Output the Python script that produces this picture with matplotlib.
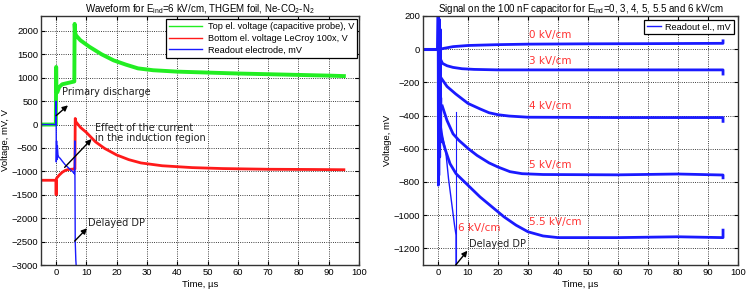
import matplotlib
matplotlib.use('Agg')
import matplotlib.pyplot as plt

plt.rcParams['font.family'] = ['Liberation Sans', 'DejaVu Sans']
plt.rcParams['mathtext.fontset'] = 'custom'
plt.rcParams['mathtext.rm'] = 'Liberation Sans'
plt.rcParams['mathtext.it'] = 'Liberation Sans'

# ---- left panel: waveform for E_ind = 6 kV/cm ----
top_t = [-5, -0.1, 0, 0.1, 0.4, 1, 2, 4, 6, 6.1, 6.3, 6.6, 8, 11, 15, 19, 23, 27, 32, 40, 50, 60, 70, 80, 90, 95]
top_v = [0, 0, 1230, 700, 690, 800, 860, 890, 920, 2150, 1950, 1900, 1800, 1660, 1500, 1370, 1280, 1200, 1160, 1130, 1110, 1090, 1075, 1060, 1045, 1035]

bot_t = [-5, -0.1, 0, 0.1, 0.5, 1, 2, 3, 4, 6, 6.2, 6.3, 6.5, 7, 8, 10, 13, 16, 20, 24, 28, 35, 45, 55, 70, 85, 95]
bot_v = [-1190, -1190, -1500, -1150, -1120, -1080, -1020, -980, -960, -950, -950, 130, 60, 20, -60, -170, -370, -510, -650, -750, -820, -880, -920, -940, -955, -960, -965]

ro_t = [-5, -0.05, 0, 0.05, 0.15, 0.25, 0.4, 0.6, 0.9, 1.3, 2, 3, 4, 5, 5.8, 6.0, 6.15, 6.3, 6.5, 6.7]
ro_v = [0, 0, 500, -800, -350, -750, -450, -650, -700, -720, -780, -860, -920, -980, -1030, -1050, -350, -2500, -2900, -3100]

# ---- right panel: signal on the 100 nF capacitor ----
base_t = [-5, -0.2]
base_v = [0, 0]
spike_t = [-0.2, 0, 0.1, 0.2, 0.3, 0.45, 0.6, 0.75, 0.9, 1.0]
spike_v = [0, 260, -820, 220, -760, 180, -650, 120, -560, -300]

e0_t = [0.8, 2, 5, 10, 20, 30, 50, 70, 95, 95]
e0_v = [0, 5, 15, 22, 27, 30, 32, 33, 35, 50]
e3_t = [0.8, 1.5, 3, 5, 8, 12, 20, 40, 60, 80, 95, 95]
e3_v = [-60, -86, -100, -110, -118, -122, -125, -125, -125, -125, -125, -150]
e4_t = [1.2, 3, 5.9, 10, 14, 17, 20, 23.7, 30, 60, 95, 95]
e4_v = [-178, -225, -270, -327, -360, -383, -395, -403, -410, -412, -412, -435]
e5_t = [1.4, 3, 5, 7, 10, 13, 17, 20, 24, 28, 35, 60, 80, 95, 95]
e5_v = [-342, -430, -510, -550, -598, -640, -685, -710, -738, -750, -755, -757, -752, -758, -775]
e55_t = [1, 2.5, 4, 6, 10, 14, 18, 22, 26, 30, 35, 40, 60, 80, 95, 95]
e55_v = [-520, -610, -690, -750, -820, -890, -950, -1010, -1060, -1100, -1125, -1135, -1135, -1130, -1135, -1090]
e6_t = [0.5, 1.5, 2.6, 3.5, 4.5, 5.5, 6.0, 6.0]
e6_v = [-400, -520, -620, -780, -920, -1060, -1120, -1300]
dp_t = [6.1, 6.1]
dp_v = [-380, -1300]

field_labels = ['0 kV/cm', '3 kV/cm', '4 kV/cm', '5 kV/cm', '5.5 kV/cm', '6 kV/cm']
label_t = [30.2, 30.2, 30.2, 30.2, 30.2, 6.8]
label_v = [85, -73, -345, -699, -1042, -1076]

fig = plt.figure(figsize=(7.47, 2.91), dpi=100)
ax1 = fig.add_axes([0.0549, 0.0893, 0.4257, 0.856])
ax2 = fig.add_axes([0.5663, 0.0893, 0.4217, 0.856])

green = '#22ee22'
red = '#ff1a1a'
blue = '#1a1aff'

ax1.plot(top_t, top_v, color=green, lw=2.8, label='Top el. voltage (capacitive probe), V')
ax1.plot(bot_t, bot_v, color=red, lw=2.0, label='Bottom el. voltage LeCroy 100x, V')
ax1.plot(ro_t, ro_v, color=blue, lw=1.0, label='Readout electrode, mV')
ax1.set_xlim(-5, 100)
ax1.set_ylim(-3000, 2320)
ax1.set_yticks(range(-3000, 2001, 500))
ax1.set_title('Waveform for E$_{ind}$=6 kV/cm, THGEM foil, Ne-CO$_2$-N$_2$', fontsize=7, pad=3)
ax1.set_ylabel('Voltage, mV, V', fontsize=6.8, labelpad=1)
leg1 = ax1.legend(loc='upper right', bbox_to_anchor=(0.994, 0.988), borderaxespad=0,
                  fontsize=6.6, fancybox=False, framealpha=1, edgecolor='k',
                  handlelength=3.6, handletextpad=0.6, borderpad=0.35, labelspacing=0.3)
leg1.get_frame().set_linewidth(0.9)
for ln in leg1.get_lines():
    ln.set_linewidth(1.0)

ann = dict(fontsize=7, family='DejaVu Sans', color='#222222')
arr = dict(arrowstyle='-|>', color='k', lw=1.0, mutation_scale=8, shrinkA=0, shrinkB=0)
ax1.text(2.0, 700, 'Primary discharge', va='center', **ann)
ax1.annotate('', xy=(3.9, 410), xytext=(0.0, 190), arrowprops=arr)
ax1.text(12.8, -175, 'Effect of the current\nin the induction region', va='center',
         linespacing=1.05, **ann)
ax1.annotate('', xy=(11.7, -310), xytext=(2.8, -915), arrowprops=arr)
ax1.text(10.6, -2110, 'Delayed DP', va='center', **ann)
ax1.annotate('', xy=(10.2, -2215), xytext=(6.1, -2490), arrowprops=arr)

ax2.plot(base_t, base_v, color=blue, lw=2.2, label='Readout el., mV')
ax2.plot(spike_t, spike_v, color=blue, lw=1.8)
for t, v in [(e0_t, e0_v), (e3_t, e3_v), (e4_t, e4_v), (e5_t, e5_v), (e55_t, e55_v)]:
    ax2.plot(t, v, color=blue, lw=2.0)
ax2.plot(e6_t, e6_v, color=blue, lw=1.0)
ax2.plot(dp_t, dp_v, color=blue, lw=0.8)
ax2.set_xlim(-5, 100)
ax2.set_ylim(-1300, 200)
ax2.set_yticks(range(-1200, 201, 200))
ax2.set_title('Signal on the 100 nF capacitor for E$_{ind}$=0, 3, 4, 5, 5.5 and 6 kV/cm',
              fontsize=7, pad=3)
ax2.set_ylabel('Voltage, mV', fontsize=6.8, labelpad=1)
leg2 = ax2.legend(loc='upper right', bbox_to_anchor=(0.987, 0.984), borderaxespad=0,
                  fontsize=6.6, fancybox=False, framealpha=1, edgecolor='k',
                  handlelength=1.5, borderpad=0.3, handletextpad=0.5)
leg2.get_frame().set_linewidth(0.9)
for ln in leg2.get_lines():
    ln.set_linewidth(1.0)
for s, t, v in zip(field_labels, label_t, label_v):
    ax2.text(t, v, s, fontsize=7.5, family='DejaVu Sans', color='#ff3333', va='center')
ax2.text(10.3, -1173, 'Delayed DP', va='center', **ann)
ax2.annotate('', xy=(9.8, -1214), xytext=(5.9, -1300), arrowprops=arr)

for ax in (ax1, ax2):
    ax.set_xticks(range(0, 101, 10))
    ax.set_xlabel('Time, \u00b5s', fontsize=6.8, labelpad=2)
    ax.grid(True, color='k', linestyle=':', linewidth=0.6)
    ax.tick_params(direction='in', length=3, labelsize=6.8, pad=2, top=True, right=True)
    for sp in ax.spines.values():
        sp.set_color('#333333')
        sp.set_linewidth(1.0)

fig.savefig('out.png', dpi=100)
